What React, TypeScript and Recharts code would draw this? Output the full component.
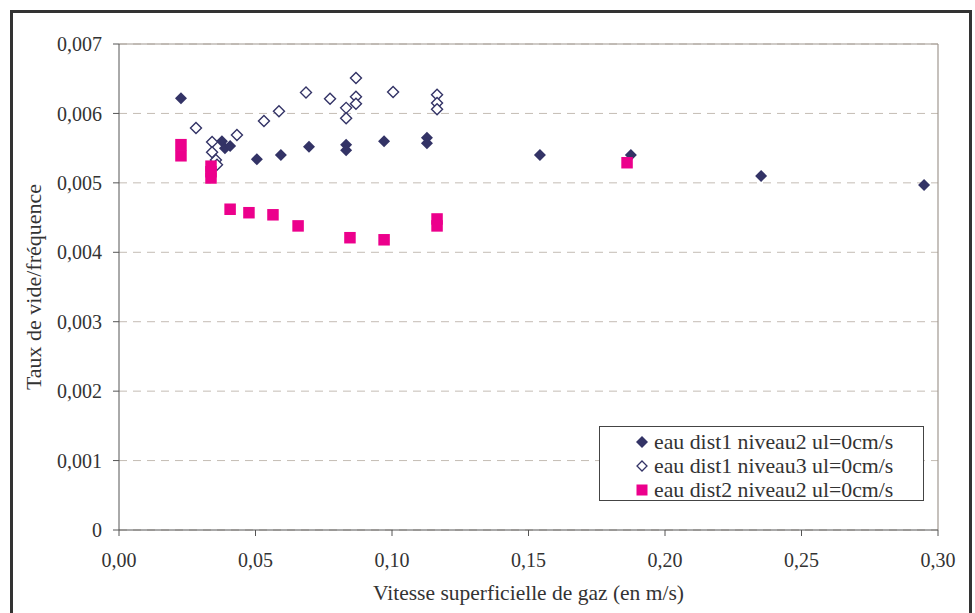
import React from "react";
import {
  ScatterChart,
  Scatter,
  XAxis,
  YAxis,
  CartesianGrid,
  ReferenceLine,
  Legend,
} from "recharts";

// eau dist1 niveau2 ul=0cm/s (filled diamonds)
const s1X = [0.0227, 0.0377, 0.0388, 0.0407, 0.0505, 0.0593, 0.0696, 0.0832, 0.0832, 0.0971, 0.1128, 0.1128, 0.1542, 0.1875, 0.2352, 0.2949];
const s1Y = [0.00622, 0.0056, 0.0055, 0.00553, 0.00534, 0.0054, 0.00552, 0.00555, 0.00547, 0.0056, 0.00565, 0.00557, 0.0054, 0.0054, 0.0051, 0.00497];

// eau dist1 niveau3 ul=0cm/s (hollow diamonds)
const s2X = [0.0282, 0.0341, 0.0341, 0.0355, 0.0359, 0.0432, 0.0531, 0.0586, 0.0685, 0.0773, 0.0832, 0.0832, 0.0868, 0.0868, 0.0868, 0.1004, 0.1165, 0.1165, 0.1165];
const s2Y = [0.00579, 0.00559, 0.00544, 0.00533, 0.00526, 0.00569, 0.00589, 0.00603, 0.0063, 0.00621, 0.00608, 0.00593, 0.00651, 0.00624, 0.00614, 0.00631, 0.00627, 0.00615, 0.00606];

// eau dist2 niveau2 ul=0cm/s (pink squares)
const s3X = [0.0227, 0.0227, 0.0337, 0.0337, 0.0337, 0.0407, 0.0476, 0.0564, 0.0656, 0.0846, 0.0971, 0.1165, 0.1165, 0.1861];
const s3Y = [0.00555, 0.00539, 0.00524, 0.00516, 0.00507, 0.00462, 0.00457, 0.00454, 0.00438, 0.00421, 0.00418, 0.00448, 0.00438, 0.00529];

const xTicks = [0, 0.05, 0.1, 0.15, 0.2, 0.25, 0.3];
const yTicks = [0, 0.001, 0.002, 0.003, 0.004, 0.005, 0.006, 0.007];

const seriesNames = [
  "eau dist1 niveau2 ul=0cm/s",
  "eau dist1 niveau3 ul=0cm/s",
  "eau dist2 niveau2 ul=0cm/s",
];

const NAVY = "#333366";
const PINK = "#ec008c";
const FONT = "'Liberation Serif', 'Times New Roman', serif";

const zip = (xs: number[], ys: number[]) => xs.map((x, i) => ({ x, y: ys[i] }));
const d1 = zip(s1X, s1Y);
const d2 = zip(s2X, s2Y);
const d3 = zip(s3X, s3Y);

const FilledDiamond = (p: any) => {
  const { cx, cy } = p;
  const r = 6;
  return <path d={`M${cx},${cy - r}L${cx + r},${cy}L${cx},${cy + r}L${cx - r},${cy}Z`} fill={NAVY} />;
};
const HollowDiamond = (p: any) => {
  const { cx, cy } = p;
  const r = 5.5;
  return (
    <path
      d={`M${cx},${cy - r}L${cx + r},${cy}L${cx},${cy + r}L${cx - r},${cy}Z`}
      fill="#fff"
      stroke={NAVY}
      strokeWidth={1.4}
    />
  );
};
const PinkSquare = (p: any) => {
  const { cx, cy } = p;
  const s = 11.5;
  return <rect x={cx - s / 2} y={cy - s / 2} width={s} height={s} fill={PINK} />;
};

const fmtX = (v: number) => v.toFixed(2).replace(".", ",");
const fmtY = (v: number) => (v === 0 ? "0" : v.toFixed(3).replace(".", ","));

const LegendBox = () => {
  const marks = [
    <path key="a" d="M7,1L13,7L7,13L1,7Z" fill={NAVY} />,
    <path key="b" d="M7,2L12,7L7,12L2,7Z" fill="#fff" stroke={NAVY} strokeWidth={1.3} />,
    <rect key="c" x={1.5} y={1.5} width={11} height={11} fill={PINK} />,
  ];
  return (
    <div
      style={{
        width: 323,
        height: 73,
        border: "1px solid #444",
        background: "#fff",
        fontFamily: FONT,
        fontSize: 21.8,
        color: "#333",
        boxSizing: "content-box",
      }}
    >
      <div style={{ paddingTop: 3 }}>
        {seriesNames.map((n, i) => (
          <div key={n} style={{ height: 24, display: "flex", alignItems: "center" }}>
            <svg width={14} height={14} style={{ marginLeft: 35, marginRight: 5 }}>
              {marks[i]}
            </svg>
            <span style={{ whiteSpace: "nowrap", lineHeight: "24px" }}>{n}</span>
          </div>
        ))}
      </div>
    </div>
  );
};

export default function App() {
  return (
    <div style={{ position: "absolute", left: 0, top: 0, width: 975, height: 613, background: "#fff", overflow: "hidden" }}>
      <div
        style={{
          position: "absolute",
          left: 10,
          top: 10,
          width: 956,
          height: 700,
          border: "3px solid #333",
        }}
      />
      <div style={{ position: "absolute", left: 0, top: 0 }}>
        <ScatterChart
          width={975}
          height={613}
          margin={{ top: 44, right: 37, bottom: 53, left: 59 }}
          style={{ fontFamily: FONT }}
        >
          <CartesianGrid horizontal vertical={false} stroke="#c4bcb4" strokeDasharray="8 6" />
          <XAxis
            type="number"
            dataKey="x"
            domain={[0, 0.3]}
            ticks={xTicks}
            tickFormatter={fmtX}
            height={30}
            tickSize={6}
            tickMargin={17}
            stroke="#555"
            tick={{ fill: "#333", fontSize: 20, fontFamily: FONT }}
            label={{
              value: "Vitesse superficielle de gaz (en m/s)",
              position: "insideBottom",
              offset: -40,
              style: { fill: "#333", fontSize: 21.5, fontFamily: FONT },
            }}
          />
          <YAxis
            type="number"
            dataKey="y"
            domain={[0, 0.007]}
            ticks={yTicks}
            tickFormatter={fmtY}
            width={60}
            tickSize={6}
            tickMargin={11}
            stroke="#555"
            tick={{ fill: "#333", fontSize: 20, fontFamily: FONT }}
            label={{
              value: "Taux de vide/fréquence",
              angle: -90,
              position: "center",
              dx: -56,
              style: { fill: "#333", fontSize: 22, fontFamily: FONT, textAnchor: "middle" },
            }}
          />
          <ReferenceLine y={0.007} stroke="#a09890" strokeWidth={1.2} />
          <ReferenceLine x={0.3} stroke="#a09890" strokeWidth={1.2} />
          <Scatter name={seriesNames[0]} data={d1} shape={FilledDiamond} isAnimationActive={false} />
          <Scatter name={seriesNames[1]} data={d2} shape={HollowDiamond} isAnimationActive={false} />
          <Scatter name={seriesNames[2]} data={d3} shape={PinkSquare} isAnimationActive={false} />
          <Legend
            layout="horizontal"
            verticalAlign="middle"
            align="center"
            content={() => <LegendBox />}
            wrapperStyle={{ position: "absolute", left: 599, top: 426, width: 325, height: 75 }}
          />
        </ScatterChart>
      </div>
    </div>
  );
}
